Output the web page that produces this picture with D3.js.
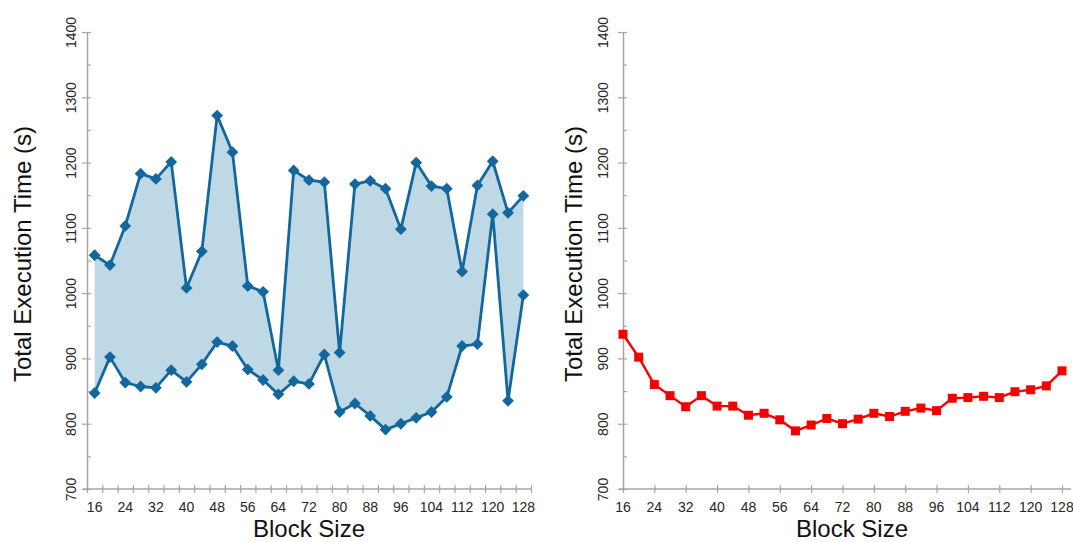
<!DOCTYPE html>
<html>
<head>
<meta charset="utf-8">
<script src="https://cdn.jsdelivr.net/npm/d3@7"></script>
<style>
  html, body { margin: 0; padding: 0; background: #fff; }
  svg { display: block; font-family: "Liberation Sans", Arial, sans-serif; }
</style>
</head>
<body>
<svg id="chart" width="1073" height="542"></svg>
<script>
// Block sizes measured (16 .. 128 in steps of 4)
const blockSizes = [16, 20, 24, 28, 32, 36, 40, 44, 48, 52, 56, 60, 64, 68, 72,
                    76, 80, 84, 88, 92, 96, 100, 104, 108, 112, 116, 120, 124, 128];

// Left panel: upper and lower bound of total execution time (s)
const upperTimes = [1058, 1043, 1103, 1183, 1175, 1201, 1008, 1064, 1272, 1216, 1011, 1002, 882, 1188, 1173,
                    1170, 909, 1167, 1172, 1160, 1098, 1200, 1164, 1160, 1033, 1165, 1202, 1123, 1149];
const lowerTimes = [847, 902, 863, 857, 855, 882, 864, 891, 925, 919, 883, 867, 845, 865, 861,
                    906, 818, 831, 812, 791, 800, 809, 818, 841, 919, 922, 1121, 835, 997];

// Right panel: single series of total execution time (s)
const singleTimes = [937, 902, 860, 843, 826, 843, 827, 827, 813, 816, 806, 789, 798, 808, 800,
                     807, 816, 811, 819, 824, 820, 839, 840, 842, 840, 849, 852, 858, 881];

// Axis ticks
const yMajorTicks = [700, 800, 900, 1000, 1100, 1200, 1300, 1400];
const yMinorTicks = [750, 850, 950, 1050, 1150, 1250, 1350];
const xLabelTicks = [16, 24, 32, 40, 48, 56, 64, 72, 80, 88, 96, 104, 112, 120, 128];

const yTitle = "Total Execution Time (s)";
const xTitle = "Block Size";

const AXIS = "#a6a6a6";
const TEXT = "#262626";
const FONT = '"Liberation Sans", Arial, sans-serif';

const svg = d3.select("#chart");

const y = d3.scaleLinear().domain([700, 1400]).range([489, 32]);

function drawYAxis(g, axisX, labelOffset, titleX) {
  const major = g.append("g").attr("transform", `translate(${axisX},0)`)
    .call(d3.axisLeft(y).tickValues(yMajorTicks).tickFormat(d3.format("d"))
      .tickSize(5).tickSizeOuter(0));
  major.attr("font-size", 14).attr("font-family", FONT);
  major.select(".domain").attr("stroke", AXIS).attr("stroke-width", 1.5);
  major.selectAll(".tick line").attr("stroke", AXIS).attr("stroke-width", 1.2)
    .attr("x1", 4).attr("x2", -5);
  major.selectAll(".tick text")
    .attr("x", null).attr("dy", null)
    .attr("transform", `translate(${-labelOffset},0) rotate(-90)`)
    .attr("text-anchor", "middle")
    .attr("fill", TEXT)
    .attr("font-size", 14);

  const minor = g.append("g").attr("transform", `translate(${axisX},0)`)
    .call(d3.axisLeft(y).tickValues(yMinorTicks).tickSize(-4).tickFormat(""));
  minor.select(".domain").remove();
  minor.selectAll(".tick line").attr("stroke", AXIS).attr("stroke-width", 1.2);

  g.append("text")
    .attr("transform", `translate(${titleX},254) rotate(-90)`)
    .attr("text-anchor", "middle")
    .attr("fill", "#111")
    .attr("font-family", FONT)
    .attr("font-size", 24)
    .text(yTitle);
}

function drawXLabels(g, x, centerX) {
  g.selectAll("text.xlab").data(xLabelTicks).join("text")
    .attr("class", "xlab")
    .attr("x", d => x(d)).attr("y", 512)
    .attr("text-anchor", "middle")
    .attr("fill", TEXT)
    .attr("font-family", FONT)
    .attr("font-size", 14)
    .text(d => d);
  g.append("text")
    .attr("x", centerX).attr("y", 537)
    .attr("text-anchor", "middle")
    .attr("fill", "#111")
    .attr("font-family", FONT)
    .attr("font-size", 24)
    .text(xTitle);
}

// ---------- Left panel: range band between lower and upper times ----------
{
  const g = svg.append("g");
  // categories sit between tick marks: boundaries at 14, 18, ..., 130
  const x = d3.scaleLinear().domain([14, 130]).range([87, 531]);
  const data = blockSizes.map((s, i) => ({ s, hi: upperTimes[i], lo: lowerTimes[i] }));

  g.append("path").datum(data)
    .attr("fill", "#bed8e5")
    .attr("d", d3.area().x(d => x(d.s)).y0(d => y(d.lo)).y1(d => y(d.hi)));

  drawYAxis(g, 87, 11, 31);

  // x axis line and boundary ticks
  const boundaries = d3.range(14, 131, 4);
  const xa = g.append("g").attr("transform", "translate(0,489)")
    .call(d3.axisBottom(x).tickValues(boundaries).tickSize(4).tickFormat(""));
  xa.select(".domain").remove();
  xa.selectAll(".tick line").attr("stroke", AXIS).attr("stroke-width", 1.2).attr("y1", -4);
  g.append("line").attr("x1", 83).attr("x2", x(130)).attr("y1", 489).attr("y2", 489)
    .attr("stroke", AXIS).attr("stroke-width", 1.5);

  drawXLabels(g, x, 309);

  const line = d3.line().x(d => x(d[0])).y(d => y(d[1]));
  const BLUE = "#13679c";
  [upperTimes, lowerTimes].forEach(series => {
    const pts = blockSizes.map((s, i) => [s, series[i]]);
    g.append("path").datum(pts)
      .attr("fill", "none").attr("stroke", BLUE).attr("stroke-width", 2.8)
      .attr("stroke-linejoin", "round").attr("d", line);
    g.selectAll(null).data(pts).join("path")
      .attr("transform", d => `translate(${x(d[0])},${y(d[1])}) rotate(45)`)
      .attr("d", d3.symbol(d3.symbolSquare, 70)())
      .attr("fill", BLUE);
  });
}

// ---------- Right panel: single series ----------
{
  const g = svg.append("g");
  const x = d3.scaleLinear().domain([16, 128]).range([623, 1062]);

  drawYAxis(g, 623, 15, 582);

  const xa = g.append("g").attr("transform", "translate(0,489)")
    .call(d3.axisBottom(x).tickValues(xLabelTicks).tickSize(4).tickFormat(""));
  xa.select(".domain").remove();
  xa.selectAll(".tick line").attr("stroke", AXIS).attr("stroke-width", 1.2).attr("y1", -4);
  g.append("line").attr("x1", 619).attr("x2", 1071).attr("y1", 489).attr("y2", 489)
    .attr("stroke", AXIS).attr("stroke-width", 1.5);

  drawXLabels(g, x, 852);

  const pts = blockSizes.map((s, i) => [s, singleTimes[i]]);
  const RED = "#f50000";
  g.append("path").datum(pts)
    .attr("fill", "none").attr("stroke", RED).attr("stroke-width", 2.4)
    .attr("stroke-linejoin", "round")
    .attr("d", d3.line().x(d => x(d[0])).y(d => y(d[1])));
  g.selectAll(null).data(pts).join("path")
    .attr("transform", d => `translate(${x(d[0])},${y(d[1])})`)
    .attr("d", d3.symbol(d3.symbolSquare, 81)())
    .attr("fill", RED);
}
</script>
</body>
</html>
